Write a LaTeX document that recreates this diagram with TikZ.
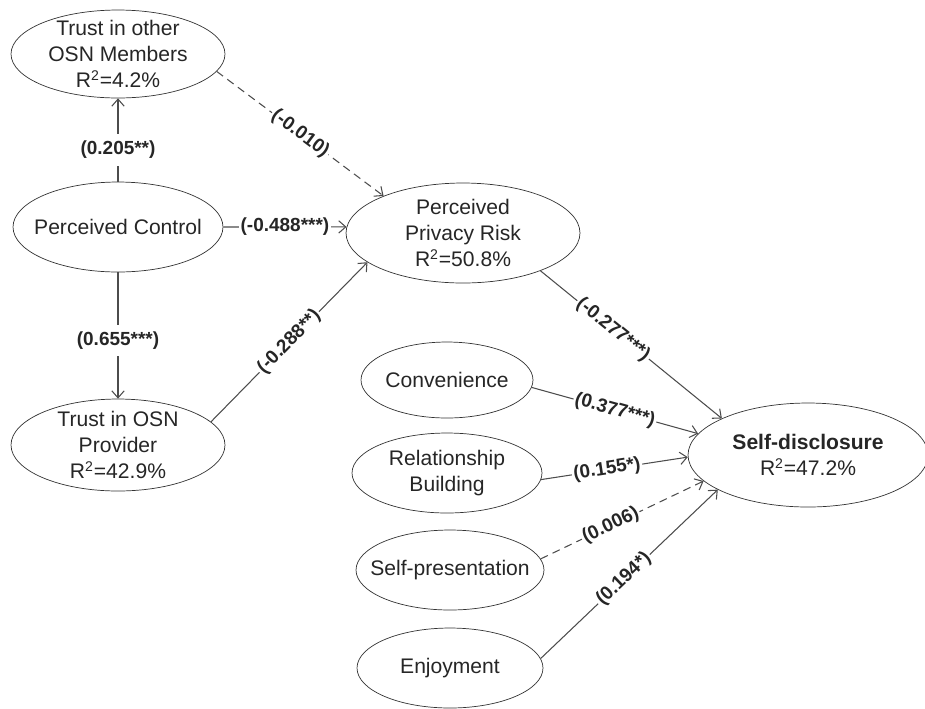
\documentclass[tikz,border=0pt]{standalone}
\usepackage{fontspec}
\setmainfont{Liberation Sans}
\usetikzlibrary{shapes.geometric,arrows.meta}

\begin{document}
\begin{tikzpicture}[x=0.02cm, y=-0.02cm,
    latent/.style 2 args={draw=black!80, ellipse, inner sep=0pt, minimum width=#1, minimum height=#2},
    conlabel/.style={align=center, font=\fontsize{12}{15}\selectfont, text=black!85},
    link/.style={draw=black!70, line width=0.6pt, -{Straight Barb[length=4pt,width=7pt]}},
    weak/.style={link, dash pattern=on 4.5pt off 3pt},
    coef/.style={fill=white, font=\bfseries\fontsize{10.8}{13}\selectfont, text=black!85, inner xsep=1pt, inner ysep=4pt}]
    \useasboundingbox (0,0) rectangle (925,708);

    % Constructs on the left
    \node[latent={4.28cm}{1.76cm}, label={[conlabel]center:Trust in other\\OSN Members\\R\textsuperscript{2}=4.2\%}] (tom) at (118,54) {};
    \node[latent={4.2cm}{1.8cm}, label={[conlabel]center:Perceived Control}] (pc) at (118,227) {};
    \node[latent={4.28cm}{1.84cm}, label={[conlabel]center:Trust in OSN\\Provider\\R\textsuperscript{2}=42.9\%}] (tosn) at (118,445) {};

    % Mediator
    \node[latent={4.68cm}{2cm}, label={[conlabel]center:Perceived\\Privacy Risk\\R\textsuperscript{2}=50.8\%}] (ppr) at (463,233) {};

    % Motives
    \node[latent={3.44cm}{1.52cm}, label={[conlabel]center:Convenience}] (conv) at (447,380) {};
    \node[latent={3.8cm}{1.6cm}, label={[conlabel]center:Relationship\\Building}] (rb) at (447,473) {};
    \node[latent={3.76cm}{1.6cm}, label={[conlabel]center:Self-presentation}] (sp) at (450,570) {};
    \node[latent={3.72cm}{1.6cm}, label={[conlabel]center:Enjoyment}] (enj) at (450,668) {};

    % Outcome
    \node[latent={4.8cm}{2.08cm}, label={[conlabel]center:{\bfseries Self-disclosure}\\R\textsuperscript{2}=47.2\%}] (sd) at (808,455) {};

    % Paths
    \draw[link] (pc.north) -- node[coef, pos=0.38] {(0.205**)} (tom.south);
    \draw[link] (pc.south) -- node[coef, pos=0.54] {(0.655***)} (tosn.north);
    \draw[link] (pc.east) -- node[coef] {(-0.488***)} (ppr.177);
    \draw[weak] (tom.-10) -- node[coef, sloped] {(-0.010)} (ppr.155);
    \draw[link] (tosn.14) -- node[coef, sloped] {(-0.288**)} (ppr.-163);

    % Paths to self-disclosure
    \draw[link] (ppr.-26) -- node[coef, sloped, pos=0.4] {(-0.277***)} (sd.157);
    \draw[link] (conv.-5) -- node[coef, sloped] {(0.377***)} (sd.169);
    \draw[link] (rb.-4) -- node[coef, sloped, pos=0.45] {(0.155*)} (sd.181);
    \draw[weak] (sp.7) -- node[coef, sloped, pos=0.43] {(0.006)} (sd.194);
    \draw[link] (enj.6) -- node[coef, sloped, pos=0.47] {(0.194*)} (sd.201);
\end{tikzpicture}
\end{document}
